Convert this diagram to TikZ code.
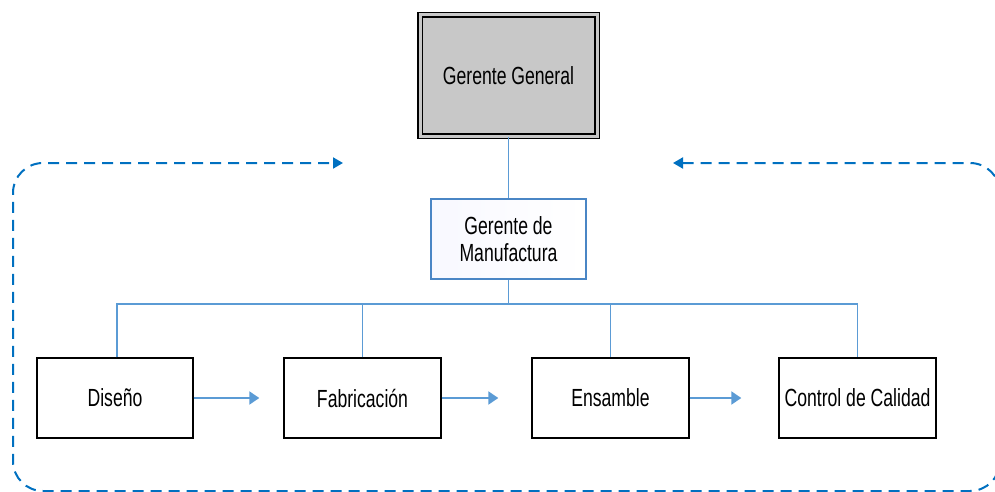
\documentclass[tikz,border=0pt]{standalone}
\usepackage{fontspec}
\usetikzlibrary{arrows.meta}
\newfontfamily\narrowfont[FakeStretch=0.71]{Liberation Sans}
\definecolor{linkblue}{RGB}{91,155,213}
\definecolor{loopblue}{RGB}{0,112,192}
\definecolor{mgrborder}{RGB}{74,134,197}
\definecolor{mgrfill}{RGB}{242,246,252}
\definecolor{topgray}{RGB}{200,200,200}
\begin{document}
\begin{tikzpicture}[x=1pt,y=-1pt,
  every node/.style={font=\narrowfont\fontsize{24.8}{27}\selectfont, inner sep=0pt, align=center},
  areabox/.style={draw=black, line width=1.4pt, fill=white, minimum width=157pt, minimum height=80pt},
  topbox/.style={draw=black, line width=1.1pt, double=topgray, double distance=3pt, fill=topgray,
                 minimum width=177pt, minimum height=121pt},
  mgrbox/.style={draw=mgrborder, line width=1.3pt, left color=mgrfill!70!blue!8, right color=white,
                 minimum width=155pt, minimum height=80pt},
  link/.style={draw=linkblue, line width=1.2pt},
  flow/.style={draw=linkblue, line width=2pt, -{Triangle[length=10pt,width=13pt]}},
  loop/.style={draw=loopblue, line width=2pt, dash pattern=on 11pt off 7pt, rounded corners=30pt,
               {Triangle[length=10pt,width=11pt]}-{Triangle[length=10pt,width=11pt]}}
]
\useasboundingbox (0,0) rectangle (995,492);

% boxes
\node[topbox] (gg) at (508.5,75.5) {Gerente General};
\node[mgrbox] (gm) at (508.5,239) {Gerente de\\Manufactura};
\node[areabox, minimum width=156pt] (dis) at (115,398) {Diseño};
\node[areabox] (fab) at (362.5,398) {Fabricación};
\node[areabox] (ens) at (610.5,398) {Ensamble};
\node[areabox] (cal) at (857.5,398) {Control de Calidad};

% hierarchy
\coordinate (bus) at (508.5,304);
\draw[link, line width=1pt] (gg.south) -- (gm.north);
\draw[link, line width=1.8pt] (gm.south) -- (bus);
\draw[link, line width=1.8pt] (dis.north -| 117,0) |- (bus) -| (cal.north);
\draw[link] (fab.north) -- (fab.north |- bus);
\draw[link] (ens.north) -- (ens.north |- bus);
\draw[link] (dis.north -| 117,0) -- (117,304);

% process flow
\draw[flow, shorten >=24pt] (dis.east) -- (fab.west);
\draw[flow, shorten >=33pt] (fab.east) -- (ens.west);
\draw[flow, shorten >=37pt] (ens.east) -- (cal.west);

% feedback loop
\coordinate (loopR) at (673,163);
\coordinate (loopL) at (343,163);
\coordinate (cTR) at (1000,163);
\coordinate (cBR) at (1000,491);
\coordinate (cBL) at (13,491);
\coordinate (cTL) at (13,163);
\draw[loop] (loopR) -- (cTR) -- (cBR) -- (cBL) -- (cTL) -- (loopL);
\end{tikzpicture}
\end{document}
